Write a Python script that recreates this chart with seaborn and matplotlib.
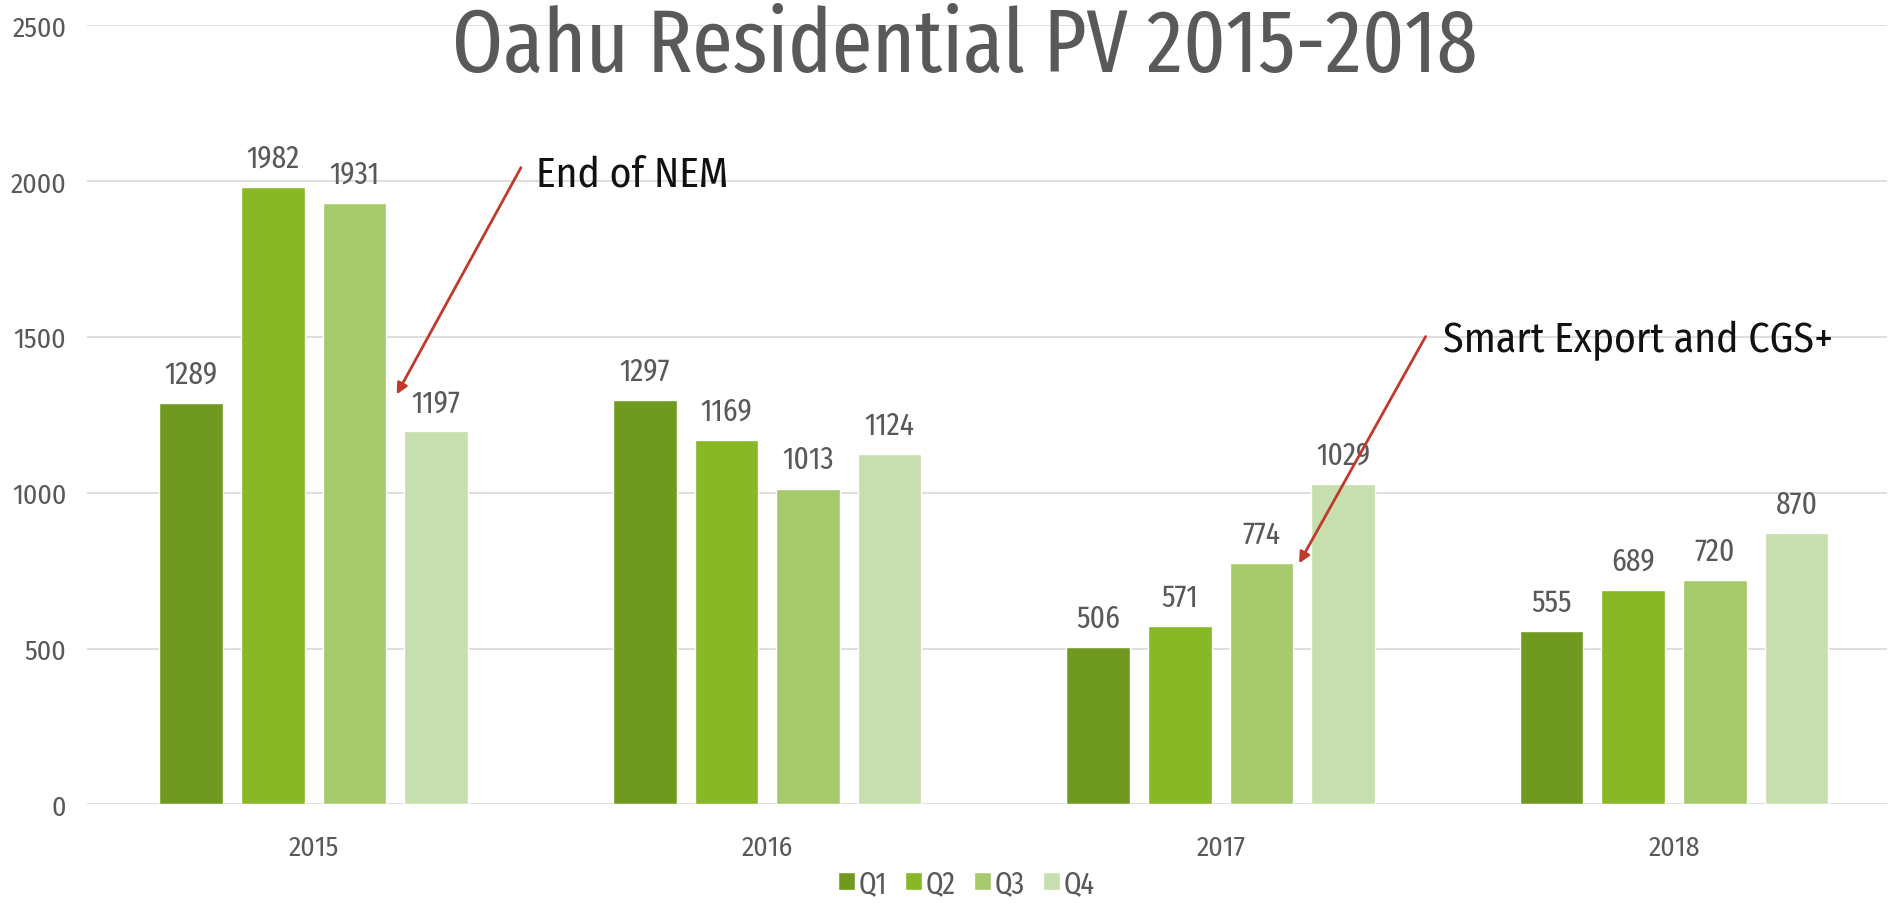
"""
Oahu residential PV installs per quarter, 2015-2018, grouped bar chart.
"""

import pandas as pd
import seaborn as sns
import matplotlib.pyplot as plt

years = ["2015", "2016", "2017", "2018"]
quarters = ["Q1", "Q2", "Q3", "Q4"]
q1 = [1289, 1297, 506, 555]
q2 = [1982, 1169, 571, 689]
q3 = [1931, 1013, 774, 720]
q4 = [1197, 1124, 1029, 870]
quarter_colors = ["#6f9a1f", "#88b826", "#a6c96c", "#c7dfae"]

sns.set_theme(style="white")
plt.rcParams["font.family"] = ["Fira Sans Condensed", "DejaVu Sans"]
narrow = ["Fira Sans Extra Condensed", "Fira Sans Condensed", "DejaVu Sans"]

# long form so seaborn can do the hue grouping
df = pd.DataFrame({
    "year": years * 4,
    "quarter": [q for q in quarters for _ in years],
    "value": q1 + q2 + q3 + q4,
})

fig = plt.figure(figsize=(18.91, 9.04), dpi=100)
ax = fig.add_axes([0.046, 0.109, 0.952, 0.862])

sns.barplot(data=df, x="year", y="value", hue="quarter", order=years,
            hue_order=quarters, palette=quarter_colors, saturation=1,
            width=0.72, gap=0.22, ax=ax, legend=True)

for cont in ax.containers:
    ax.bar_label(cont, fmt="%d", padding=10, fontsize=23, color="#595959",
                 family=narrow)

ax.set_ylim(0, 2500)
ax.set_xlim(-0.5, 3.47)
ax.set_yticks([0, 500, 1000, 1500, 2000, 2500])
ax.yaxis.grid(True, color="#d9d9d9", linewidth=1.2)
ax.set_axisbelow(True)
for side in ["top", "right", "left", "bottom"]:
    ax.spines[side].set_visible(False)
ax.tick_params(axis="y", labelsize=20, labelcolor="#595959", pad=9)
ax.tick_params(axis="x", labelsize=20, labelcolor="#595959", pad=15)
ax.set_xlabel("")
ax.set_ylabel("")

# legend sits at the very bottom of the figure, centred under the title
ax.legend(loc="lower center", bbox_to_anchor=(0.511, 0.0),
          bbox_transform=fig.transFigure, ncol=4, frameon=False,
          borderaxespad=0, borderpad=0.15,
          handlelength=0.55, handleheight=0.55, handletextpad=0.12,
          columnspacing=0.6, labelcolor="#595959",
          prop={"family": narrow, "size": 22})

fig.text(0.51, 0.947, "Oahu Residential PV 2015-2018", ha="center",
         va="center", fontsize=64, color="#595959", family=narrow)

# arrows pointing at the policy changes
arrow = dict(arrowstyle="-|>", color="#c0392b", lw=2, mutation_scale=16)
ax.annotate("", xy=(0.18, 1308), xytext=(0.46, 2051), arrowprops=arrow)
ax.text(0.49, 2024, "End of NEM", fontsize=30, va="center", color="#111111")
ax.annotate("", xy=(2.17, 766), xytext=(2.455, 1509), arrowprops=arrow)
ax.text(2.49, 1490, "Smart Export and CGS+", fontsize=30, va="center",
        color="#111111")

fig.savefig("out.png", dpi=100)
